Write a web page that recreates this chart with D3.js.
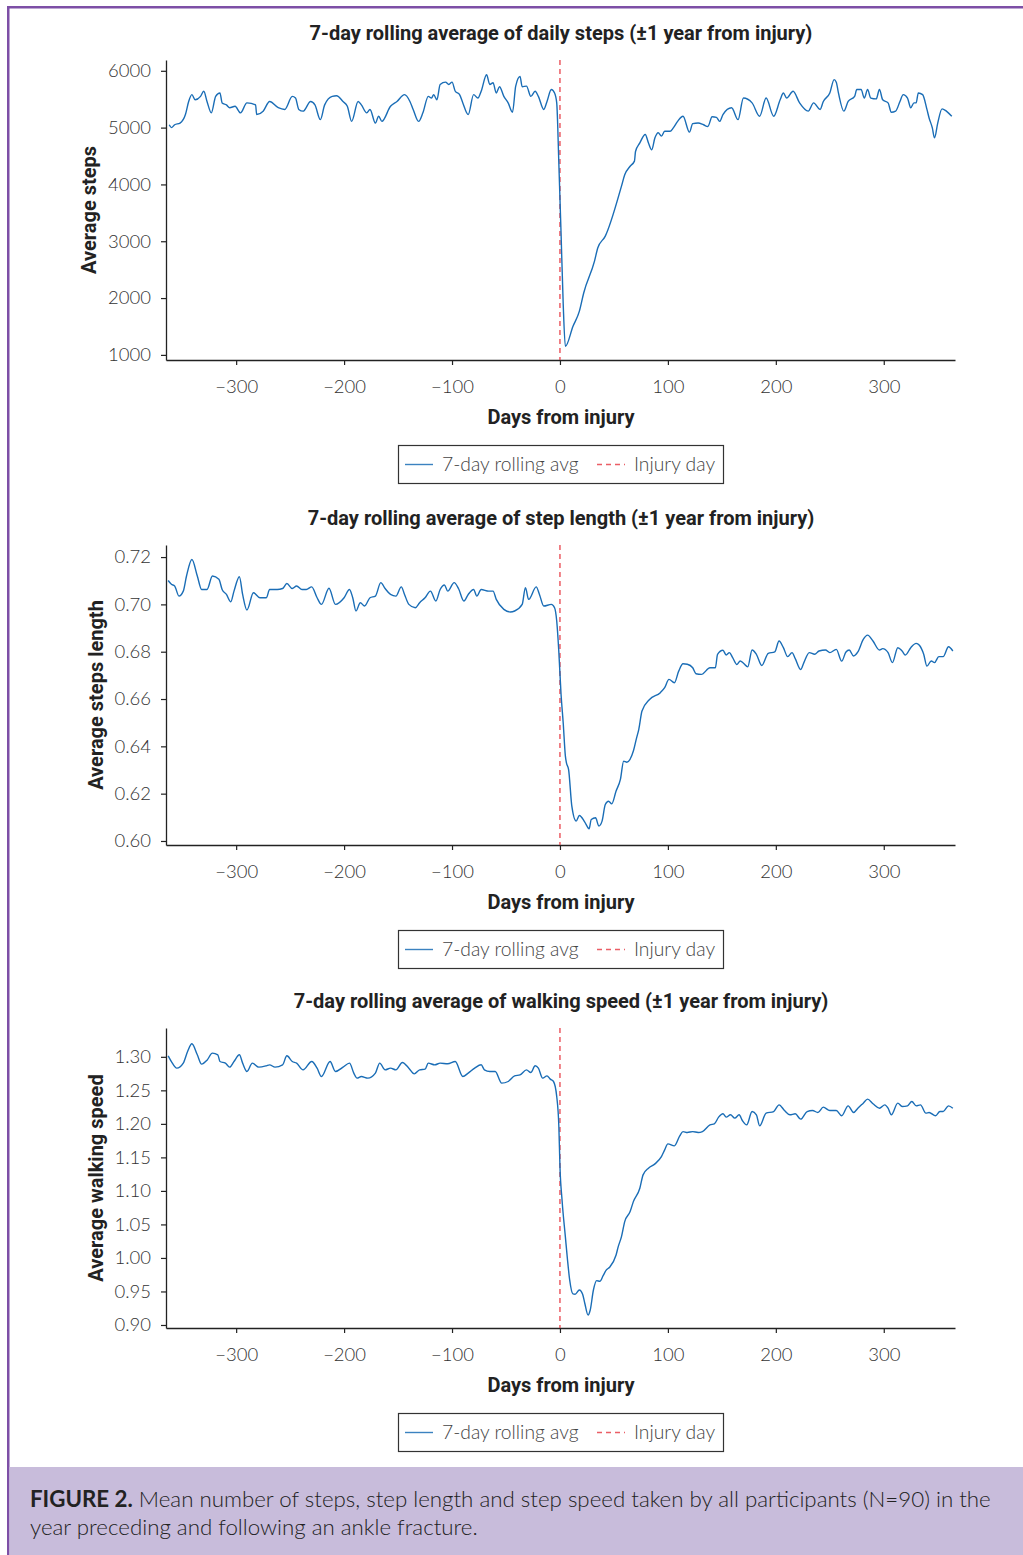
<!DOCTYPE html>
<html><head><meta charset="utf-8">
<script src="https://cdn.jsdelivr.net/npm/d3@7"></script>
<style>
body{margin:0;background:#fff;}
svg{display:block;}
</style></head>
<body>
<script>
// ---------- DATA ----------
const xTickValues = [-300, -200, -100, 0, 100, 200, 300];
const xDomain = [-365, 366];

const stepsTicks = [1000, 2000, 3000, 4000, 5000, 6000];
const stepsDays = [-362,-360,-357,-352,-347,-344,-341,-338,-333,-330,-327,-323,-319,-315,-313,-309,-306,-301,-296,-290,-282,-281,-275,-269,-261,-255,-248,-245,-242,-238,-231,-227,-222,-218,-211,-207,-201,-197,-193,-187,-184,-179,-176,-171,-168,-165,-157,-151,-144,-139,-136,-131,-127,-122,-119,-117,-114,-111,-106,-103,-100,-97,-93,-90,-85,-80,-76,-73,-68,-65,-62,-59,-56,-52,-48,-44,-41,-37,-35,-31,-27,-23,-20,-15,-12,-8,-5,-3,-1,1,3,5,12,18,22,32,35,42,57,60,65,69,70,74,79,82,85,88,91,94,97,102,105,109,114,120,123,128,133,137,141,145,148,151,159,165,170,178,185,191,198,204,207,210,216,222,230,235,241,244,250,254,256,258,263,267,273,275,279,282,285,288,293,296,299,304,307,311,315,318,322,325,328,330,332,336,340,342,345,347,350,354,358,363];
const stepsValues = [5050,5000,5050,5080,5230,5460,5580,5490,5550,5640,5460,5260,5550,5610,5435,5400,5350,5375,5260,5435,5400,5230,5290,5460,5350,5320,5550,5520,5320,5290,5460,5400,5140,5400,5550,5560,5460,5375,5110,5460,5400,5260,5320,5080,5200,5110,5375,5460,5580,5460,5320,5110,5260,5550,5520,5580,5490,5760,5800,5760,5800,5640,5580,5435,5230,5580,5520,5640,5930,5760,5790,5610,5720,5550,5435,5270,5730,5900,5720,5730,5550,5640,5550,5320,5460,5670,5610,5435,4350,3150,1900,1150,1500,1770,2090,2650,2880,3090,3970,4170,4320,4410,4580,4730,4880,4730,4610,4820,4910,4850,4935,4935,4995,5110,5200,4920,5070,5080,5050,5020,5190,5180,5110,5230,5350,5140,5520,5435,5200,5520,5200,5490,5610,5520,5640,5435,5290,5435,5320,5460,5610,5845,5800,5610,5290,5460,5550,5670,5670,5520,5670,5520,5505,5670,5490,5435,5270,5290,5460,5580,5520,5350,5435,5435,5610,5580,5320,5170,4995,4820,5080,5330,5290,5200];

const lengthTicks = [0.60, 0.62, 0.64, 0.66, 0.68, 0.70, 0.72];
const lengthDays = [-363,-360,-357,-353,-349,-346,-341,-336,-332,-327,-322,-316,-313,-309,-305,-302,-297,-294,-290,-284,-278,-272,-269,-262,-257,-253,-248,-244,-239,-235,-230,-225,-221,-214,-208,-200,-195,-192,-189,-185,-181,-176,-171,-166,-162,-157,-152,-147,-144,-140,-134,-130,-125,-120,-115,-111,-107,-104,-98,-94,-89,-85,-80,-77,-73,-66,-62,-59,-52,-46,-42,-35,-32,-29,-22,-19,-15,-8,-5,-3,-1,1,3,5,6,8,11,15,18,23,27,29,33,36,39,42,45,48,52,56,59,62,68,71,73,76,83,93,97,101,106,110,114,118,123,126,131,139,144,146,151,154,157,160,164,167,170,174,178,182,187,193,199,203,207,211,215,218,223,226,231,236,240,246,250,256,261,265,268,272,276,281,285,290,296,299,304,308,313,317,320,325,330,333,337,340,344,347,351,355,360,364];
const lengthValues = [0.7101,0.7085,0.7078,0.7035,0.7056,0.7120,0.7190,0.7120,0.7063,0.7063,0.7120,0.7106,0.7063,0.7042,0.7011,0.7056,0.7117,0.7042,0.6976,0.7049,0.7028,0.7028,0.7063,0.7063,0.7067,0.7088,0.7067,0.7078,0.7063,0.7063,0.7074,0.7028,0.7000,0.7068,0.7000,0.7028,0.7063,0.7028,0.6972,0.7007,0.6993,0.7028,0.7035,0.7092,0.7067,0.7042,0.7035,0.7074,0.7042,0.7000,0.6986,0.7007,0.7028,0.7056,0.7014,0.7063,0.7082,0.7056,0.7092,0.7067,0.7014,0.7042,0.7063,0.7035,0.7063,0.7056,0.7056,0.7021,0.6979,0.6968,0.6972,0.7000,0.7071,0.7021,0.7074,0.7042,0.6993,0.7000,0.6986,0.6930,0.6796,0.6620,0.6500,0.6360,0.6330,0.6302,0.6147,0.6084,0.6108,0.6080,0.6052,0.6091,0.6098,0.6063,0.6084,0.6154,0.6168,0.6157,0.6211,0.6260,0.6337,0.6333,0.6380,0.6436,0.6471,0.6549,0.6598,0.6627,0.6648,0.6683,0.6669,0.6718,0.6749,0.6747,0.6732,0.6707,0.6704,0.6732,0.6732,0.6789,0.6806,0.6786,0.6796,0.6775,0.6746,0.6761,0.6751,0.6736,0.6807,0.6789,0.6742,0.6793,0.6799,0.6845,0.6817,0.6779,0.6796,0.6771,0.6725,0.6754,0.6796,0.6789,0.6803,0.6807,0.6796,0.6810,0.6760,0.6799,0.6807,0.6782,0.6799,0.6852,0.6870,0.6845,0.6807,0.6813,0.6796,0.6754,0.6817,0.6803,0.6786,0.6817,0.6835,0.6827,0.6789,0.6739,0.6761,0.6754,0.6779,0.6779,0.6821,0.6803];

const speedTicks = [0.90, 0.95, 1.00, 1.05, 1.10, 1.15, 1.20, 1.25, 1.30];
const speedDays = [-363,-360,-355,-349,-345,-341,-336,-332,-327,-322,-317,-315,-310,-306,-302,-297,-294,-290,-285,-279,-272,-269,-264,-257,-253,-248,-244,-238,-230,-225,-221,-213,-208,-201,-195,-191,-188,-184,-178,-171,-167,-162,-157,-152,-146,-140,-135,-130,-125,-122,-116,-111,-104,-97,-90,-85,-79,-73,-70,-65,-60,-54,-48,-42,-37,-31,-27,-23,-20,-16,-12,-9,-6,-3,-1,0,2,5,7,9,12,14,18,21,23,26,28,31,34,37,40,43,46,52,54,57,60,65,68,74,77,82,88,94,97,100,106,111,114,118,123,128,132,139,143,147,151,154,158,162,166,169,173,178,182,185,191,198,203,208,213,218,223,229,234,239,244,250,256,261,267,272,276,281,285,290,296,301,304,307,313,317,322,326,330,334,339,342,348,352,355,360,364];
const speedValues = [1.3015,1.2930,1.2831,1.2906,1.3079,1.3194,1.3030,1.2891,1.2950,1.3055,1.3030,1.2930,1.2906,1.2846,1.2930,1.3030,1.2906,1.2781,1.2906,1.2846,1.2866,1.2880,1.2846,1.2880,1.3015,1.2930,1.2906,1.2806,1.2930,1.2831,1.2706,1.2930,1.2781,1.2846,1.2906,1.2757,1.2682,1.2706,1.2682,1.2757,1.2906,1.2806,1.2831,1.2806,1.2916,1.2831,1.2746,1.2806,1.2816,1.2906,1.2880,1.2906,1.2896,1.2930,1.2706,1.2757,1.2831,1.2881,1.2806,1.2781,1.2781,1.2607,1.2632,1.2716,1.2731,1.2806,1.2766,1.2866,1.2831,1.2682,1.2716,1.2667,1.2632,1.2408,1.1950,1.1363,1.0850,1.0318,0.9970,0.9672,0.9463,0.9458,0.9522,0.9458,0.9324,0.9149,0.9219,0.9522,0.9661,0.9652,0.9736,0.9821,0.9861,1.0045,1.0169,1.0318,1.0542,1.0691,1.0840,1.1040,1.1239,1.1339,1.1403,1.1512,1.1612,1.1702,1.1672,1.1821,1.1885,1.1871,1.1885,1.1871,1.1885,1.1985,1.2000,1.2100,1.2150,1.2100,1.2135,1.2085,1.2135,1.2050,1.1985,1.2184,1.2135,1.1970,1.2160,1.2184,1.2284,1.2199,1.2135,1.2150,1.2070,1.2184,1.2199,1.2170,1.2249,1.2199,1.2199,1.2120,1.2269,1.2170,1.2234,1.2309,1.2369,1.2299,1.2234,1.2284,1.2234,1.2135,1.2309,1.2259,1.2269,1.2334,1.2269,1.2284,1.2160,1.2170,1.2120,1.2184,1.2184,1.2269,1.2234];

const titles = [
  "7-day rolling average of daily steps (\u00b11 year from injury)",
  "7-day rolling average of step length (\u00b11 year from injury)",
  "7-day rolling average of walking speed (\u00b11 year from injury)"
];
const yLabels = ["Average steps", "Average steps length", "Average walking speed"];
const xLabel = "Days from injury";
const legendLabels = ["7-day rolling avg", "Injury day"];

// ---------- LAYOUT ----------
const W = 1023, H = 1555;
const LINE_COLOR = "#1a6db6", RED = "#e8434c", AX = "#222", TXT = "#333";
const TICK_FONT = "Lato, 'Open Sans', sans-serif";
const BOLD_FONT = "Roboto, 'Open Sans', sans-serif";
const BOLD_SIZE = 20;

const svg = d3.select("body").append("svg").attr("width", W).attr("height", H);
svg.append("rect").attr("width", W).attr("height", H).attr("fill", "#fff");

// frame
svg.append("rect").attr("x", 7).attr("y", 6).attr("width", W - 7).attr("height", 2.5).attr("fill", "#7d4fa6");
svg.append("rect").attr("x", 7).attr("y", 6).attr("width", 2.5).attr("height", H - 6).attr("fill", "#7d4fa6");

const panels = [
  {top: 60, bottom: 360, yDomain: [910, 6190], ticks: stepsTicks, fmt: d3.format("d"), days: stepsDays, vals: stepsValues, title: titles[0], ylab: yLabels[0], ylabX: 96},
  {top: 545, bottom: 845, yDomain: [0.5983, 0.7251], ticks: lengthTicks, fmt: d3.format(".2f"), days: lengthDays, vals: lengthValues, title: titles[1], ylab: yLabels[1], ylabX: 103},
  {top: 1028, bottom: 1328, yDomain: [0.8955, 1.343], ticks: speedTicks, fmt: d3.format(".2f"), days: speedDays, vals: speedValues, title: titles[2], ylab: yLabels[2], ylabX: 103}
];
const left = 166, right = 955;

panels.forEach((p, i) => {
  const g = svg.append("g");
  const x = d3.scaleLinear().domain(xDomain).range([left, right]);
  const y = d3.scaleLinear().domain(p.yDomain).range([p.bottom, p.top]);

  // title
  g.append("text").attr("x", 561).attr("y", p.top - 20)
    .attr("text-anchor", "middle").attr("font-family", BOLD_FONT).attr("font-weight", 700)
    .attr("font-size", BOLD_SIZE).attr("fill", "#222").text(p.title);

  // axes
  const xa = g.append("g").attr("transform", `translate(0,${p.bottom})`)
    .call(d3.axisBottom(x).tickValues(xTickValues).tickSize(5).tickSizeOuter(0).tickPadding(15));
  const ya = g.append("g").attr("transform", `translate(${left},0)`)
    .call(d3.axisLeft(y).tickValues(p.ticks).tickFormat(p.fmt).tickSize(5).tickSizeOuter(0).tickPadding(10));
  [xa, ya].forEach(a => {
    a.select(".domain").attr("stroke", AX).attr("stroke-width", 1.3);
    a.selectAll(".tick line").attr("stroke", AX).attr("stroke-width", 1.2);
    a.selectAll(".tick text").attr("font-family", TICK_FONT).attr("font-weight", 300)
      .attr("font-size", 18.5).attr("fill", TXT);
  });

  // labels
  g.append("text").attr("x", 561).attr("y", p.bottom + 64).attr("text-anchor", "middle")
    .attr("font-family", BOLD_FONT).attr("font-weight", 700).attr("font-size", BOLD_SIZE).attr("fill", "#222").text(xLabel);
  g.append("text").attr("transform", `translate(${p.ylabX},${(p.top + p.bottom) / 2}) rotate(-90)`)
    .attr("text-anchor", "middle").attr("font-family", BOLD_FONT).attr("font-weight", 700)
    .attr("font-size", BOLD_SIZE).attr("fill", "#222").text(p.ylab);

  // injury line
  g.append("line").attr("x1", x(0)).attr("x2", x(0)).attr("y1", p.top).attr("y2", p.bottom)
    .attr("stroke", RED).attr("stroke-width", 1.3).attr("stroke-dasharray", "5,4");

  // series
  const data = p.days.map((d, k) => ({d, v: p.vals[k]}));
  g.append("path").datum(data).attr("fill", "none").attr("stroke", LINE_COLOR).attr("stroke-width", 1.4)
    .attr("stroke-linejoin", "round")
    .attr("d", d3.line().x(d => x(d.d)).y(d => y(d.v)).curve(d3.curveMonotoneX));

  // legend
  const ly = p.bottom + 85;
  const lg = g.append("g").attr("transform", `translate(398,${ly})`);
  lg.append("rect").attr("x", 0.5).attr("y", 0.5).attr("width", 325).attr("height", 38)
    .attr("fill", "#fff").attr("stroke", "#333").attr("stroke-width", 1.2);
  lg.append("line").attr("x1", 7).attr("x2", 35).attr("y1", 19.5).attr("y2", 19.5)
    .attr("stroke", LINE_COLOR).attr("stroke-width", 1.4).attr("opacity", 0.85);
  lg.append("text").attr("x", 44).attr("y", 26).attr("font-family", TICK_FONT).attr("font-weight", 300)
    .attr("font-size", 19.3).attr("fill", "#444").text(legendLabels[0]);
  lg.append("line").attr("x1", 199).attr("x2", 227).attr("y1", 19.5).attr("y2", 19.5)
    .attr("stroke", RED).attr("stroke-width", 1.3).attr("stroke-dasharray", "5,4").attr("opacity", 0.85);
  lg.append("text").attr("x", 236).attr("y", 26).attr("font-family", TICK_FONT).attr("font-weight", 300)
    .attr("font-size", 19.3).attr("fill", "#444").text(legendLabels[1]);
});

// caption
svg.append("rect").attr("x", 9.5).attr("y", 1467).attr("width", W - 9.5).attr("height", H - 1467).attr("fill", "#c8bcdb");
const cap = svg.append("g").attr("font-family", TICK_FONT).attr("font-size", 22.3).attr("fill", "#222");
const l1 = cap.append("text").attr("x", 30).attr("y", 1507);
l1.append("tspan").attr("font-weight", 700).text("FIGURE 2.");
l1.append("tspan").attr("font-weight", 300).text(" Mean number of steps, step length and step speed taken by all participants (N=90) in the");
cap.append("text").attr("x", 30).attr("y", 1535).attr("font-weight", 300).text("year preceding and following an ankle fracture.");
</script>
</body></html>
